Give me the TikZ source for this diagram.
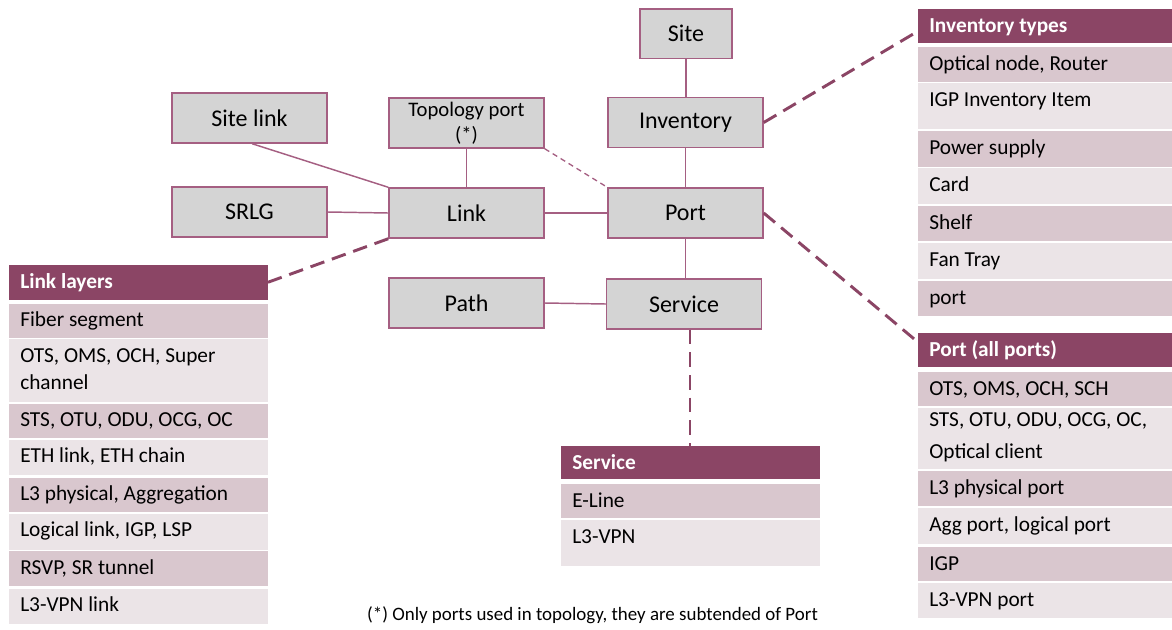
\documentclass[tikz,border=0pt]{standalone}
\usepackage{fontspec}
\setmainfont{Carlito}
\definecolor{hdr}{RGB}{139,69,101}
\definecolor{rowdark}{RGB}{217,199,206}
\definecolor{rowlight}{RGB}{235,228,231}
\definecolor{boxfill}{RGB}{212,212,212}
\definecolor{boxline}{RGB}{165,95,130}
\tikzset{
 box/.style={draw=boxline, fill=boxfill, line width=1.1pt, minimum width=116.25pt, minimum height=37.5pt, inner sep=0pt, font=\fontsize{18}{21.6}\selectfont},
 conn/.style={draw=boxline, line width=1.1pt},
 thinlink/.style={draw=boxline, line width=1pt, dash pattern=on 4pt off 3pt},
 thicklink/.style={draw=hdr, line width=2.2pt, dash pattern=on 11pt off 6pt},
 cellbg/.style={inner sep=0pt, outer sep=0pt, draw=none, anchor=north west},
 celltxt/.style={inner sep=0pt, anchor=base west, font=\fontsize{16}{19.5}\selectfont, text=black},
 hdrtxt/.style={celltxt, text=white, font=\fontsize{16}{19.5}\selectfont\bfseries},
}
\newcommand\tcell[7]{%
 \node[cellbg, fill=#6, minimum width=#4*0.75pt, minimum height=#5*0.75pt] (#1) at (#2,#3) {};
 \node[celltxt] (#1t) at ([xshift=8.25pt, yshift=-17.6pt]#1.north west) {#7};}
\newcommand\hcell[6]{%
 \node[cellbg, fill=hdr, minimum width=#4*0.75pt, minimum height=#5*0.75pt] (#1) at (#2,#3) {};
 \node[hdrtxt] (#1t) at ([xshift=8.25pt, yshift=-17.6pt]#1.north west) {#6};}
\newcommand\twolines[3]{\begin{tabular}[t]{@{}l@{}}#1\\[#3]#2\end{tabular}}
\begin{document}
\begin{tikzpicture}[x=0.75pt, y=-0.75pt]
\useasboundingbox (0,0) rectangle (1172,629);
% boxes
\node[box, minimum width=69pt, minimum height=37pt] (site) at (686,33.75) {Site};
\node[box] (inv) at (685.5,122.5) {Inventory};
\node[box] (port) at (685.5,213) {Port};
\node[box] (sitelink) at (249.5,118) {Site link};
\node[box, font=\fontsize{15.5}{19}\selectfont, align=center] (topo) at (466.5,123) {Topology port\\(*)};
\node[box] (srlg) at (249.5,212) {SRLG};
\node[box] (link) at (466.5,213) {Link};
\node[box] (path) at (466.5,303) {Path};
\node[box] (service) at (684,304) {Service};
% link layers table
\hcell{ll}{9}{265}{259}{34.5}{Link layers}
\tcell{ll1}{9}{303.5}{259}{34}{rowdark}{Fiber segment}
\tcell{ll2}{9}{339}{259}{62.5}{rowlight}{\twolines{OTS, OMS, OCH, Super}{channel}{0.5pt}}
\tcell{ll3}{9}{403.5}{259}{34}{rowdark}{STS, OTU, ODU, OCG, OC}
\tcell{ll4}{9}{439.5}{259}{35.5}{rowlight}{ETH link, ETH chain}
\tcell{ll5}{9}{477.5}{259}{34}{rowdark}{L3 physical, Aggregation}
\tcell{ll6}{9}{513.5}{259}{36}{rowlight}{Logical link, IGP, LSP}
\tcell{ll7}{9}{551}{259}{35}{rowdark}{RSVP, SR tunnel}
\tcell{ll8}{9}{588.5}{259}{35}{rowlight}{L3-VPN link}
% inventory types table
\hcell{it}{918}{9}{254}{33.7}{Inventory types}
\tcell{it1}{918}{47.3}{254}{34.4}{rowdark}{Optical node, Router}
\tcell{it2}{918}{83.3}{254}{46}{rowlight}{IGP Inventory Item}
\tcell{it3}{918}{131}{254}{35.7}{rowdark}{Power supply}
\tcell{it4}{918}{168.3}{254}{36}{rowlight}{Card}
\tcell{it5}{918}{206}{254}{35}{rowdark}{Shelf}
\tcell{it6}{918}{242.7}{254}{36}{rowlight}{Fan Tray}
\tcell{it7}{918}{280.7}{254}{35.3}{rowdark}{port}
% port table
\hcell{pt}{918}{333.3}{254}{34}{Port (all ports)}
\tcell{pt1}{918}{371.7}{254}{34.3}{rowdark}{OTS, OMS, OCH, SCH}
\tcell{pt2}{918}{407.7}{254}{61.6}{rowlight}{\raisebox{3.75pt}{\twolines{STS, OTU, ODU, OCG, OC,}{Optical client}{4.5pt}}}
\tcell{pt3}{918}{471.3}{254}{34.7}{rowdark}{L3 physical port}
\tcell{pt4}{918}{508.3}{254}{36}{rowlight}{Agg port, logical port}
\tcell{pt5}{918}{546.7}{254}{34.3}{rowdark}{IGP}
\tcell{pt6}{918}{582.7}{254}{35.6}{rowlight}{L3-VPN port}
% service table
\hcell{st}{561}{445.7}{259}{33.6}{Service}
\tcell{st1}{561}{484.3}{259}{34}{rowdark}{E-Line}
\tcell{st2}{561}{520}{259}{46}{rowlight}{L3-VPN}
% connectors
\draw[conn] (site.south) -- (site.south |- inv.north);
\draw[conn] (inv) -- (port);
\draw[conn] (port) -- (service.north -| port.south);
\draw[conn] (link.east) -- (port.west);
\draw[conn] (srlg.east) -- (link.west);
\draw[conn] (topo.south) -- (link.north);
\draw[conn] ([xshift=2pt]sitelink.south) -- (link.north west);
\draw[conn] (path.east) -- (service.west);
\draw[thinlink] (topo.south east) -- (port.north west);
\draw[thicklink] (link.south west) -- (ll.east);
\draw[thicklink] (inv.east) -- ([yshift=-4pt]it.west);
\draw[thicklink] (port.east) -- ([xshift=-2pt,yshift=-5pt]pt.north west);
\draw[thicklink] ([xshift=4.5pt]service.south) -- ([xshift=4.5pt]service.south |- st.north);
% footnote
\node[font=\fontsize{14.2}{17}\selectfont] (note) at (592.5,615) {(*) Only ports used in topology, they are subtended of Port};
\end{tikzpicture}
\end{document}
